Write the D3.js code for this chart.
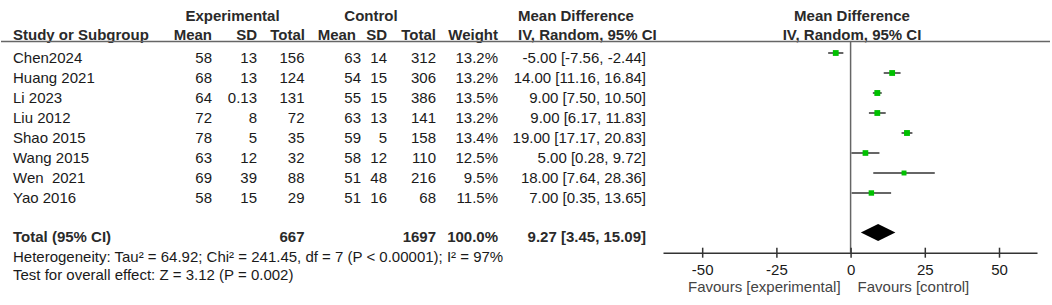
<!DOCTYPE html>
<html>
<head>
<meta charset="utf-8">
<script src="https://cdn.jsdelivr.net/npm/d3@7"></script>
<style>
    body { margin: 0; background: #fff; }
    svg { display: block; font-family: "Liberation Sans", Arial, sans-serif; }
</style>
</head>
<body>
<svg id="forest"></svg>
<script>
// Study data
const studies = ["Chen2024", "Huang 2021", "Li 2023", "Liu 2012", "Shao 2015", "Wang 2015", "Wen  2021", "Yao 2016"];
const expMean = ["58", "68", "64", "72", "78", "63", "69", "58"];
const expSD = ["13", "13", "0.13", "8", "5", "12", "39", "15"];
const expTotal = ["156", "124", "131", "72", "35", "32", "88", "29"];
const ctlMean = ["63", "54", "55", "63", "59", "58", "51", "51"];
const ctlSD = ["14", "15", "15", "13", "5", "12", "48", "16"];
const ctlTotal = ["312", "306", "386", "141", "158", "110", "216", "68"];
const weights = [13.2, 13.2, 13.5, 13.2, 13.4, 12.5, 9.5, 11.5];
const md = [-5.00, 14.00, 9.00, 9.00, 19.00, 5.00, 18.00, 7.00];
const ciLow = [-7.56, 11.16, 7.50, 6.17, 17.17, 0.28, 7.64, 0.35];
const ciHigh = [-2.44, 16.84, 10.50, 11.83, 20.83, 9.72, 28.36, 13.65];

// Pooled result
const totalExp = "667";
const totalCtl = "1697";
const totalWeight = "100.0%";
const pooled = [9.27, 3.45, 15.09];
const heterogeneity = "Heterogeneity: Tau² = 64.92; Chi² = 241.45, df = 7 (P < 0.00001); I² = 97%";
const overallEffect = "Test for overall effect: Z = 3.12 (P = 0.002)";

// Axis
const xTicks = [-50, -25, 0, 25, 50];
const xDomain = [-63.2, 62.8];
const favourLeft = "Favours [experimental]";
const favourRight = "Favours [control]";

const width = 1052, height = 305;
const textColor = "#1a1a1a";

const svg = d3.select("#forest")
    .attr("width", width)
    .attr("height", height);

// Row baselines for the table, markers sit a little above
let rowY = d3.scaleLinear().domain([0, 7]).range([62.5, 202.5]);
const totalY = 242;
const markOffset = 9.5;

let x = d3.scaleLinear().domain(xDomain).range([663, 1037]);
let size = d3.scaleSqrt().domain([0, 15]).range([0, 6.2]);

function fmt(v) { return v.toFixed(2); }

function addText(g, str, px, py, anchor, bold) {
    return g.append("text")
        .attr("x", px)
        .attr("y", py)
        .attr("text-anchor", anchor)
        .attr("font-size", 15)
        .attr("font-weight", bold ? "bold" : "normal")
        .attr("fill", bold ? "#2a2a2a" : textColor)
        .style("white-space", "pre")
        .text(str);
}

// Headers
let head = svg.append("g");
addText(head, "Experimental", 232.5, 21, "middle", true);
addText(head, "Control", 371, 21, "middle", true);
addText(head, "Mean Difference", 518, 21, "start", true);
addText(head, "Study or Subgroup", 13, 40, "start", true);
addText(head, "Mean", 212, 40, "end", true);
addText(head, "SD", 257, 40, "end", true);
addText(head, "Total", 305, 40, "end", true);
addText(head, "Mean", 356, 40, "end", true);
addText(head, "SD", 387, 40, "end", true);
addText(head, "Total", 436, 40, "end", true);
addText(head, "Weight", 498, 40, "end", true);
addText(head, "IV, Random, 95% CI", 518, 40, "start", true);
addText(head, "Mean Difference", 852, 21, "middle", true);
addText(head, "IV, Random, 95% CI", 852, 40, "middle", true);

head.append("line")
    .attr("x1", 1).attr("x2", 1050)
    .attr("y1", 41.5).attr("y2", 41.5)
    .attr("stroke", "#666")
    .attr("stroke-width", 1.5);

// Table body
let body = svg.append("g");
studies.forEach((s, i) => {
    let y = rowY(i);
    addText(body, s, 13, y, "start");
    addText(body, expMean[i], 212, y, "end");
    addText(body, expSD[i], 257, y, "end");
    addText(body, expTotal[i], 304.5, y, "end");
    addText(body, ctlMean[i], 361, y, "end");
    addText(body, ctlSD[i], 387, y, "end");
    addText(body, ctlTotal[i], 436, y, "end");
    addText(body, weights[i].toFixed(1) + "%", 498, y, "end");
    addText(body, fmt(md[i]) + " [" + fmt(ciLow[i]) + ", " + fmt(ciHigh[i]) + "]", 646, y, "end");
});

addText(body, "Total (95% CI)", 13, totalY, "start", true);
addText(body, totalExp, 304.5, totalY, "end", true);
addText(body, totalCtl, 436, totalY, "end", true);
addText(body, totalWeight, 498, totalY, "end", true);
addText(body, fmt(pooled[0]) + " [" + fmt(pooled[1]) + ", " + fmt(pooled[2]) + "]", 646, totalY, "end", true);
addText(body, heterogeneity, 13, 261.5, "start");
addText(body, overallEffect, 13, 279.5, "start");

// Line of no effect
const axisY = 252.7;
svg.append("line")
    .attr("x1", x(0)).attr("x2", x(0))
    .attr("y1", 41.5).attr("y2", axisY)
    .attr("stroke", "#666")
    .attr("stroke-width", 1.5);

// Confidence intervals and squares
let plot = svg.append("g");
plot.selectAll("line.ci")
    .data(studies)
    .enter()
    .append("line")
    .attr("class", "ci")
    .attr("x1", (d, i) => x(ciLow[i]))
    .attr("x2", (d, i) => x(ciHigh[i]))
    .attr("y1", (d, i) => rowY(i) - markOffset)
    .attr("y2", (d, i) => rowY(i) - markOffset)
    .attr("stroke", "#333")
    .attr("stroke-width", 1.5);

plot.selectAll("rect")
    .data(studies)
    .enter()
    .append("rect")
    .attr("x", (d, i) => x(md[i]) - size(weights[i]) / 2)
    .attr("y", (d, i) => rowY(i) - markOffset - size(weights[i]) / 2)
    .attr("width", (d, i) => size(weights[i]))
    .attr("height", (d, i) => size(weights[i]))
    .attr("fill", "#00c000");

// Pooled diamond
let dy = totalY - markOffset;
plot.append("path")
    .attr("d", d3.line()([
        [x(pooled[1]), dy],
        [x(pooled[0]), dy - 8.5],
        [x(pooled[2]), dy],
        [x(pooled[0]), dy + 8.5]
    ]) + "Z")
    .attr("fill", "#000");

// X axis (plain hyphen for negatives, like the original)
let xAxis = g => g
    .attr("transform", `translate(0, ${axisY})`)
    .call(d3.axisBottom(x).tickValues(xTicks).tickFormat(d => String(d))
        .tickSizeInner(5).tickSizeOuter(0).tickPadding(7))
    .call(g => g.select(".domain").attr("stroke", "#333").attr("stroke-width", 1.5))
    .call(g => g.selectAll(".tick line").attr("y1", -5).attr("stroke", "#333").attr("stroke-width", 1.5))
    .call(g => g.selectAll(".tick text")
        .attr("font-size", 15)
        .attr("font-family", "\"Liberation Sans\", Arial, sans-serif")
        .attr("fill", textColor));

svg.append("g").call(xAxis);

// Favours labels
let fav = svg.append("g");
addText(fav, favourLeft, x(0) - 10, 292, "end").attr("fill", "#444");
addText(fav, favourRight, x(0) + 7, 292, "start").attr("fill", "#444");
</script>
</body>
</html>
